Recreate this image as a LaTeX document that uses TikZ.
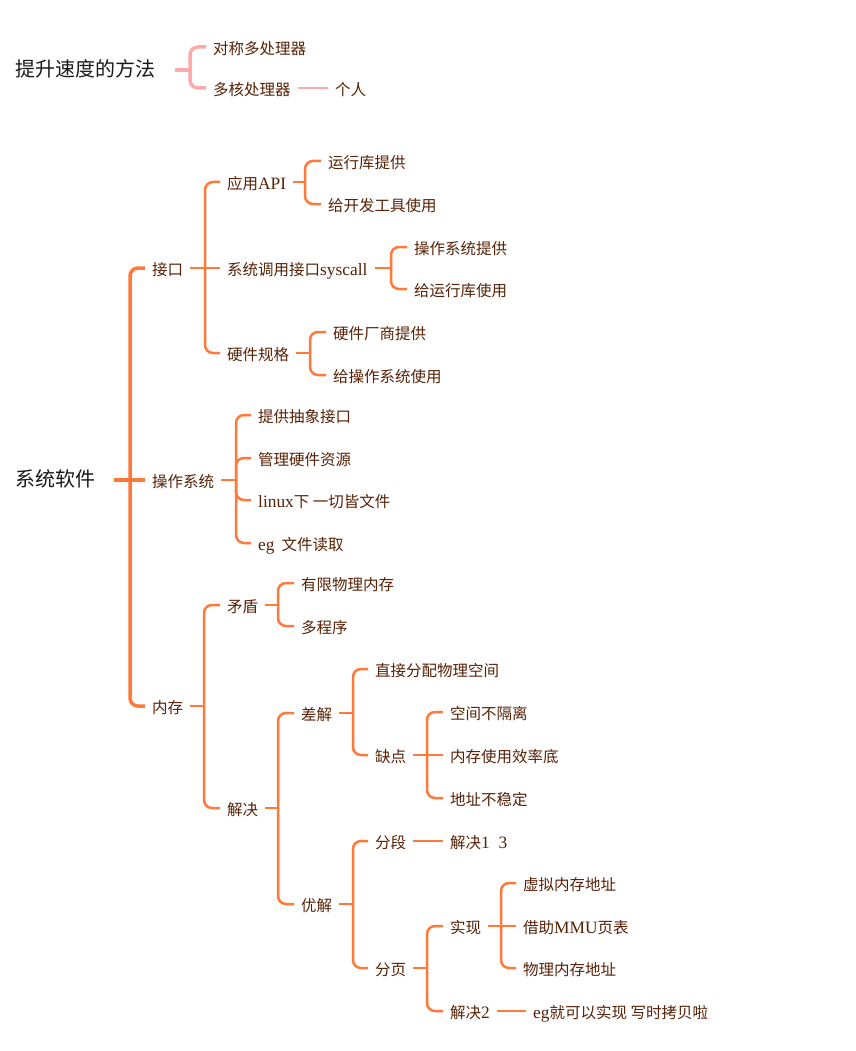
\documentclass[tikz,border=0pt]{standalone}
\usepackage{fontspec}
\usetikzlibrary{positioning}
\newfontfamily\cjk{Noto Sans CJK SC}
\newfontfamily\latn[Scale=1.12]{Liberation Serif}
\definecolor{maporange}{RGB}{255,122,58}
\definecolor{mappink}{RGB}{255,170,170}
\definecolor{maptext}{RGB}{88,34,6}
\tikzset{
    rootlabel/.style={anchor=west, inner xsep=0pt, font=\cjk\fontsize{20}{24}\selectfont, text=black!90, text height=16pt, text depth=3pt},
    topic/.style={anchor=west, inner xsep=7pt, font=\cjk\fontsize{15.5}{18}\selectfont, text=maptext, text height=15.5pt, text depth=1pt},
    link/.style={draw=maporange, line width=2.5pt, rounded corners=8pt},
    trunk/.style={link, line width=3.5pt},
    pinklink/.style={draw=mappink, line width=3.5pt, rounded corners=8pt}
}
\begin{document}
\begin{tikzpicture}[x=1pt, y=-1pt]
    \useasboundingbox[fill=white] (0,0) rectangle (855,1051);
    % top map
    \node[rootlabel] (speed) at (15,70) {提升速度的方法};
    \node[topic] (smp) at (206,47) {对称多处理器};
    \node[topic] (multi) at (206,88) {多核处理器};
    \node[topic] (person) at (328,88) {个人};
    \coordinate (speedF) at (190,70);
    \draw[pinklink] ([xshift=20pt]speed.east) -- (speedF);
    \draw[pinklink] (speedF) |- (smp.west);
    \draw[pinklink] (speedF) |- (multi.west);
    \draw[pinklink, line width=2.5pt] (multi.east) -- (person.west);
    % main map
    \node[rootlabel] (sys) at (15,480) {系统软件};
    \node[topic] (jk) at (145,268) {接口};
    \node[topic] (os) at (145,480) {操作系统};
    \node[topic] (mem) at (145,706) {内存};
    \coordinate (sysF) at (130,480);
    \draw[trunk] ([xshift=19pt]sys.east) -- (sysF);
    \draw[trunk] (sysF) |- (jk.west);
    \draw[trunk] (sysF) -- (os.west);
    \draw[trunk] (sysF) |- (mem.west);
    % interface
    \node[topic] (api) at (220,182) {应用{\latn API}};
    \node[topic] (sysc) at (220,268) {系统调用接口{\latn syscall}};
    \node[topic] (hw) at (220,353) {硬件规格};
    \coordinate (jkF) at (205,268);
    \draw[link] (jk.east) -- (jkF);
    \draw[link] (jkF) |- (api.west);
    \draw[link] (jkF) -- (sysc.west);
    \draw[link] (jkF) |- (hw.west);
    \node[topic] (rtp) at (321,161) {运行库提供};
    \node[topic] (dev) at (321,204) {给开发工具使用};
    \coordinate (apiF) at (305,182);
    \draw[link] (api.east) -- (apiF);
    \draw[link] (apiF) |- (rtp.west);
    \draw[link] (apiF) |- (dev.west);
    \node[topic] (osp) at (407,247) {操作系统提供};
    \node[topic] (rtu) at (407,289) {给运行库使用};
    \coordinate (syscF) at (391,268);
    \draw[link] (sysc.east) -- (syscF);
    \draw[link] (syscF) |- (osp.west);
    \draw[link] (syscF) |- (rtu.west);
    \node[topic] (hwv) at (326,332) {硬件厂商提供};
    \node[topic] (osu) at (326,375) {给操作系统使用};
    \coordinate (hwF) at (310,353);
    \draw[link] (hw.east) -- (hwF);
    \draw[link] (hwF) |- (hwv.west);
    \draw[link] (hwF) |- (osu.west);
    % operating system
    \node[topic] (absif) at (251,415) {提供抽象接口};
    \node[topic] (res) at (251,458) {管理硬件资源};
    \node[topic] (lnx) at (251,500) {{\latn linux}下 一切皆文件};
    \node[topic] (egf) at (251,543) {{\latn eg}\ \ 文件读取};
    \coordinate (osF) at (236,480);
    \draw[link] (os.east) -- (osF);
    \draw[link] (osF) |- (absif.west);
    \draw[link] (osF) |- (res.west);
    \draw[link] (osF) |- (lnx.west);
    \draw[link] (osF) |- (egf.west);
    % memory
    \node[topic] (conf) at (220,605) {矛盾};
    \node[topic] (sol) at (220,808) {解决};
    \coordinate (memF) at (204,706);
    \draw[link] (mem.east) -- (memF);
    \draw[link] (memF) |- (conf.west);
    \draw[link] (memF) |- (sol.west);
    \node[topic] (lim) at (294,583) {有限物理内存};
    \node[topic] (prog) at (294,626) {多程序};
    \coordinate (confF) at (278,605);
    \draw[link] (conf.east) -- (confF);
    \draw[link] (confF) |- (lim.west);
    \draw[link] (confF) |- (prog.west);
    \node[topic] (bad) at (294,713) {差解};
    \node[topic] (good) at (294,904) {优解};
    \coordinate (solF) at (278,808);
    \draw[link] (sol.east) -- (solF);
    \draw[link] (solF) |- (bad.west);
    \draw[link] (solF) |- (good.west);
    \node[topic] (direct) at (368,669) {直接分配物理空间};
    \node[topic] (flaw) at (368,755) {缺点};
    \coordinate (badF) at (353,713);
    \draw[link] (bad.east) -- (badF);
    \draw[link] (badF) |- (direct.west);
    \draw[link] (badF) |- (flaw.west);
    \node[topic] (iso) at (443,712) {空间不隔离};
    \node[topic] (eff) at (443,755) {内存使用效率底};
    \node[topic] (addr) at (443,798) {地址不稳定};
    \coordinate (flawF) at (427,755);
    \draw[link] (flaw.east) -- (flawF);
    \draw[link] (flawF) |- (iso.west);
    \draw[link] (flawF) -- (eff.west);
    \draw[link] (flawF) |- (addr.west);
    \node[topic] (seg) at (368,841) {分段};
    \node[topic] (page) at (368,968) {分页};
    \coordinate (goodF) at (353,904);
    \draw[link] (good.east) -- (goodF);
    \draw[link] (goodF) |- (seg.west);
    \draw[link] (goodF) |- (page.west);
    \node[topic] (s13) at (443,841) {解决{\latn 1\ \ 3}};
    \draw[link] (seg.east) -- (s13.west);
    \node[topic] (impl) at (443,926) {实现};
    \node[topic] (sol2) at (443,1011) {解决{\latn 2}};
    \coordinate (pageF) at (427,968);
    \draw[link] (page.east) -- (pageF);
    \draw[link] (pageF) |- (impl.west);
    \draw[link] (pageF) |- (sol2.west);
    \node[topic] (virt) at (516,883) {虚拟内存地址};
    \node[topic] (mmu) at (516,926) {借助{\latn MMU}页表};
    \node[topic] (phys) at (516,968) {物理内存地址};
    \coordinate (implF) at (501,926);
    \draw[link] (impl.east) -- (implF);
    \draw[link] (implF) |- (virt.west);
    \draw[link] (implF) -- (mmu.west);
    \draw[link] (implF) |- (phys.west);
    \node[topic] (cow) at (526,1011) {{\latn eg}就可以实现 写时拷贝啦};
    \draw[link] (sol2.east) -- (cow.west);
\end{tikzpicture}
\end{document}
